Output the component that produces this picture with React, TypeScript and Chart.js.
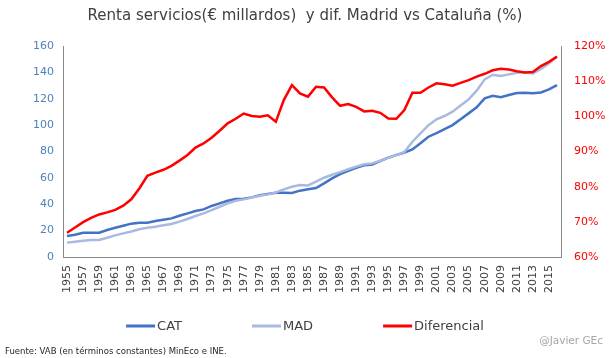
import React, { useEffect, useRef } from "react";
import { Chart, registerables } from "chart.js";

Chart.register(...registerables);

const years: string[] = [
  "1955","1956","1957","1958","1959","1960","1961","1962","1963","1964",
  "1965","1966","1967","1968","1969","1970","1971","1972","1973","1974",
  "1975","1976","1977","1978","1979","1980","1981","1982","1983","1984",
  "1985","1986","1987","1988","1989","1990","1991","1992","1993","1994",
  "1995","1996","1997","1998","1999","2000","2001","2002","2003","2004",
  "2005","2006","2007","2008","2009","2010","2011","2012","2013","2014",
  "2015","2016",
];

const catValues: number[] = [
  15.9, 16.9, 18.4, 18.4, 18.4, 20.5, 22.2, 23.7, 25.3, 26.0,
  26.0, 27.3, 28.3, 29.3, 31.3, 33.1, 34.9, 36.1, 38.7, 40.7,
  42.7, 44.0, 44.2, 45.2, 46.8, 47.8, 48.8, 48.8, 48.5, 50.3,
  51.3, 52.3, 55.8, 59.6, 62.9, 65.4, 67.7, 69.5, 70.2, 72.8,
  75.3, 77.3, 79.1, 81.6, 86.2, 91.2, 94.0, 97.0, 100.0, 104.5,
  108.9, 113.5, 120.3, 122.3, 121.1, 122.8, 124.3, 124.5, 124.1, 124.8,
  127.1, 130.4,
];

const madValues: number[] = [
  10.9, 11.6, 12.4, 12.9, 12.9, 14.6, 16.4, 17.9, 19.4, 21.0,
  22.2, 23.0, 24.0, 25.0, 26.8, 28.8, 31.1, 33.1, 35.6, 38.1,
  40.7, 42.7, 43.7, 45.0, 46.5, 47.5, 49.0, 51.3, 53.3, 54.6,
  54.3, 57.1, 60.1, 62.4, 64.4, 66.5, 68.5, 70.3, 71.0, 73.0,
  75.3, 77.3, 79.6, 87.4, 93.8, 100.0, 104.4, 106.9, 110.2, 114.8,
  119.5, 126.1, 134.7, 138.2, 137.2, 138.5, 139.7, 140.0, 139.2, 142.7,
  146.8, 151.8,
];

const difValues: number[] = [
  66.9, 68.4, 69.9, 71.1, 72.1, 72.7, 73.4, 74.6, 76.4, 79.5,
  83.1, 84.0, 84.8, 85.9, 87.4, 89.0, 91.1, 92.3, 93.9, 95.9,
  98.0, 99.3, 100.8, 100.1, 99.9, 100.3, 98.5, 104.7, 108.9, 106.5,
  105.6, 108.4, 108.2, 105.4, 103.0, 103.5, 102.7, 101.4, 101.6, 101.0,
  99.4, 99.3, 101.8, 106.7, 106.7, 108.2, 109.4, 109.1, 108.7, 109.5,
  110.3, 111.3, 112.1, 113.1, 113.5, 113.3, 112.8, 112.5, 112.6, 114.3,
  115.5, 117.0,
];

const titleText = "Renta servicios(€ millardos)  y dif. Madrid vs Cataluña (%)";
const sourceText = "Fuente: VAB (en términos constantes) MinEco e INE.";
const creditText = "@Javier GEc";

const FONT = "'DejaVu Sans', sans-serif";

const decorPlugin = {
  id: "decor",
  afterDraw(chart: any) {
    const ctx = chart.ctx as CanvasRenderingContext2D;
    ctx.save();
    // title
    ctx.fillStyle = "#404040";
    ctx.font = `15px ${FONT}`;
    ctx.textAlign = "center";
    ctx.textBaseline = "middle";
    ctx.fillText(titleText, 305, 16);

    // legend
    ctx.font = `13px ${FONT}`;
    const lineW = 29;
    const gap = 2;
    const itemGap = 70;
    const items = chart.data.datasets.map((d: any) => ({
      label: d.label as string,
      color: d.borderColor as string,
      w: ctx.measureText(d.label).width,
    }));
    let total = 0;
    items.forEach((it: any, i: number) => {
      total += lineW + gap + it.w + (i < items.length - 1 ? itemGap : 0);
    });
    let x = 305 - total / 2;
    const ly = 326;
    items.forEach((it: any) => {
      ctx.strokeStyle = it.color;
      ctx.lineWidth = 3;
      ctx.beginPath();
      ctx.moveTo(x, ly);
      ctx.lineTo(x + lineW, ly);
      ctx.stroke();
      ctx.fillStyle = "#404040";
      ctx.textAlign = "left";
      ctx.textBaseline = "middle";
      ctx.fillText(it.label, x + lineW + gap, ly + 1);
      x += lineW + gap + it.w + itemGap;
    });

    // credit
    ctx.font = `10.5px ${FONT}`;
    ctx.fillStyle = "#a6a6a6";
    ctx.textAlign = "right";
    ctx.fillText(creditText, 603, 341);

    // source
    ctx.font = `8.5px ${FONT}`;
    ctx.fillStyle = "#262626";
    ctx.textAlign = "left";
    ctx.fillText(sourceText, 5, 352);
    ctx.restore();
  },
};

export default function App() {
  const ref = useRef<HTMLCanvasElement | null>(null);

  useEffect(() => {
    document.body.style.margin = "0";
    const canvas = ref.current;
    if (!canvas) return;
    const chart = new Chart(canvas, {
      type: "line",
      data: {
        labels: years,
        datasets: [
          {
            label: "CAT",
            data: catValues,
            borderColor: "#4472C4",
            backgroundColor: "#4472C4",
            borderWidth: 2.5,
            pointRadius: 0,
            tension: 0,
            yAxisID: "y",
            order: 3,
          },
          {
            label: "MAD",
            data: madValues,
            borderColor: "#A9B9DF",
            backgroundColor: "#A9B9DF",
            borderWidth: 2.5,
            pointRadius: 0,
            tension: 0,
            yAxisID: "y",
            order: 2,
          },
          {
            label: "Diferencial",
            data: difValues,
            borderColor: "#FF0000",
            backgroundColor: "#FF0000",
            borderWidth: 2.5,
            pointRadius: 0,
            tension: 0,
            yAxisID: "y1",
            order: 1,
          },
        ],
      },
      options: {
        responsive: false,
        animation: false,
        maintainAspectRatio: false,
        layout: { padding: { top: 46, left: 0, right: 0, bottom: 0 } },
        plugins: {
          legend: { display: false },
          title: { display: false },
          tooltip: { enabled: false },
        },
        scales: {
          x: {
            offset: true,
            grid: { display: false, drawTicks: false },
            border: { display: true, color: "#898989", width: 1 },
            ticks: {
              autoSkip: false,
              maxRotation: 90,
              minRotation: 90,
              padding: 8,
              color: "#404040",
              font: { family: FONT, size: 11 },
              callback: (_v: any, i: number) => (i % 2 === 0 ? years[i] : ""),
            },
            afterFit: (s: any) => {
              s.height = 101;
            },
          },
          y: {
            position: "left",
            min: 0,
            max: 160,
            grid: { display: false, drawTicks: false },
            border: { display: true, color: "#898989", width: 1 },
            ticks: {
              stepSize: 20,
              padding: 9,
              color: "#4F81BD",
              font: { family: FONT, size: 11 },
            },
            afterFit: (s: any) => {
              s.width = 63;
            },
          },
          y1: {
            position: "right",
            min: 60,
            max: 120,
            grid: { display: false, drawTicks: false },
            border: { display: true, color: "#898989", width: 1 },
            ticks: {
              stepSize: 10,
              padding: 13,
              color: "#FF0000",
              font: { family: FONT, size: 11 },
              callback: (v: any) => `${v}%`,
            },
            afterFit: (s: any) => {
              s.width = 48;
            },
          },
        },
      },
      plugins: [decorPlugin],
    });
    return () => chart.destroy();
  }, []);

  return (
    <div style={{ width: 609, height: 358, position: "relative", background: "#fff" }}>
      <canvas ref={ref} width={609} height={358} style={{ display: "block" }} />
    </div>
  );
}
